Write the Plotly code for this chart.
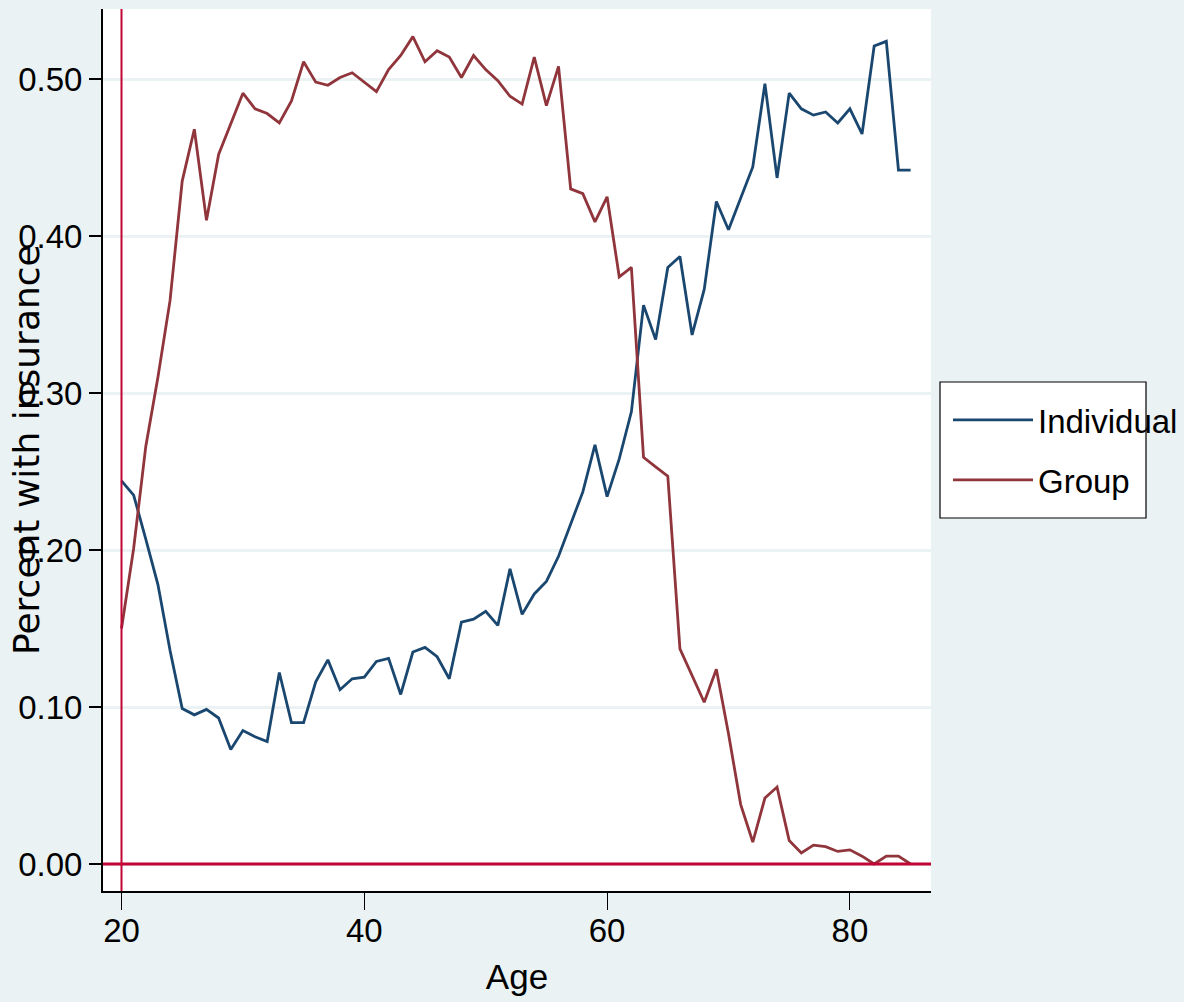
import plotly.graph_objects as go

ages = list(range(20, 86))
individual = [0.244, 0.235, 0.207, 0.178, 0.136, 0.099, 0.095, 0.0985, 0.093, 0.073,
              0.085, 0.081, 0.078, 0.122, 0.090, 0.090, 0.116, 0.130, 0.111, 0.118,
              0.119, 0.129, 0.131, 0.108, 0.135, 0.138, 0.132, 0.118, 0.154, 0.156,
              0.161, 0.152, 0.188, 0.159, 0.172, 0.180, 0.196, 0.216, 0.237, 0.267,
              0.234, 0.258, 0.288, 0.356, 0.334, 0.380, 0.387, 0.337, 0.366, 0.422,
              0.404, 0.424, 0.444, 0.497, 0.437, 0.491, 0.481, 0.477, 0.479, 0.472,
              0.481, 0.465, 0.521, 0.524, 0.442, 0.442]
group = [0.150, 0.201, 0.266, 0.310, 0.359, 0.435, 0.468, 0.410, 0.452, 0.471,
         0.491, 0.481, 0.478, 0.472, 0.486, 0.511, 0.498, 0.496, 0.501, 0.504,
         0.498, 0.492, 0.506, 0.515, 0.527, 0.511, 0.518, 0.514, 0.501, 0.515,
         0.506, 0.499, 0.489, 0.484, 0.514, 0.483, 0.508, 0.430, 0.427, 0.409,
         0.425, 0.374, 0.380, 0.259, 0.253, 0.247, 0.137, 0.120, 0.103, 0.124,
         0.083, 0.038, 0.014, 0.042, 0.049, 0.015, 0.007, 0.012, 0.011, 0.008,
         0.009, 0.005, 0.000, 0.005, 0.005, 0.000]

x_ticks = [20, 40, 60, 80]
y_ticks = [0.0, 0.1, 0.2, 0.3, 0.4, 0.5]
y_tick_labels = ["0.00", "0.10", "0.20", "0.30", "0.40", "0.50"]

BG = "#eaf2f3"
NARROW = "Liberation Sans Narrow, Arial Narrow, Liberation Sans, Arial, sans-serif"

fig = go.Figure()
fig.add_trace(go.Scatter(x=ages, y=individual, mode="lines", name="Individual",
                         legendgroup="ind",
                         line=dict(color="#1a476f", width=2.8)))
fig.add_trace(go.Scatter(x=ages, y=group, mode="lines", name="Group",
                         legendgroup="grp",
                         line=dict(color="#90353b", width=2.8)))

# reference lines
fig.add_shape(type="line", xref="x", yref="paper", x0=20, x1=20, y0=0, y1=1,
              line=dict(color="#c10534", width=2), layer="above")
fig.add_shape(type="line", xref="paper", yref="y", x0=0, x1=1, y0=0, y1=0,
              line=dict(color="#c10534", width=3), layer="above")

# legend box
fig.add_shape(type="rect", xref="paper", yref="paper",
              x0=(940 - 103) / 828, x1=(1146 - 103) / 828,
              y0=(891 - 518) / 882, y1=(891 - 382) / 882,
              fillcolor="white", line=dict(color="black", width=1.2), layer="below")

fig.add_annotation(text="Percent with insurance", xref="paper", yref="paper",
                   x=(26 - 103) / 828, y=(891 - 450) / 882, textangle=-90,
                   showarrow=False, xanchor="center", yanchor="middle",
                   font=dict(family="DejaVu Sans, Verdana, sans-serif", size=36, color="black"))

fig.update_layout(
    width=1184, height=1002,
    paper_bgcolor=BG, plot_bgcolor="white",
    margin=dict(l=103, r=253, t=9, b=111, autoexpand=False),
    showlegend=True,
    legend=dict(x=(948 - 103) / 828, y=(891 - 392) / 882, xanchor="left", yanchor="top",
                bgcolor="rgba(0,0,0,0)", borderwidth=0,
                font=dict(family=NARROW, size=33, color="black"),
                itemwidth=80, tracegroupgap=14),
    xaxis=dict(range=[18.476, 86.68], tickvals=x_ticks, ticks="outside", ticklen=17,
               tickcolor="black", tickwidth=1, showgrid=False, zeroline=False,
               showline=True, linecolor="black", linewidth=2, automargin=False,
               ticklabelstandoff=-8,
               tickfont=dict(family=NARROW, size=33, color="black"),
               title=dict(text="Age", font=dict(family=NARROW, size=35, color="black"), standoff=17)),
    yaxis=dict(range=[-0.0172, 0.5446], tickvals=y_ticks, ticktext=y_tick_labels,
               ticks="outside", ticklen=12, tickcolor="black", tickwidth=2,
               showgrid=True, gridcolor=BG, gridwidth=3, zeroline=False,
               showline=True, linecolor="black", linewidth=2, automargin=False,
               tickfont=dict(family=NARROW, size=33, color="black")),
)

fig.write_html("out.html", config={"displayModeBar": False},
               post_script="document.body.style.margin='0';")
